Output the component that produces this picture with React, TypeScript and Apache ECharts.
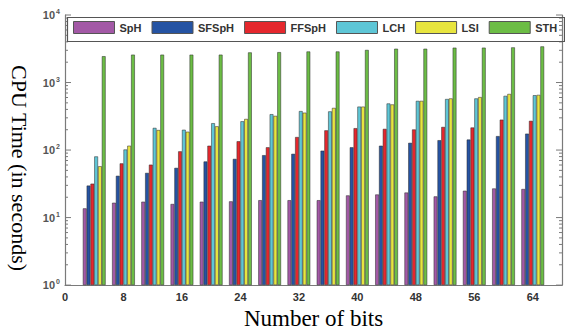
import React, { useEffect, useRef } from 'react';
import * as echarts from 'echarts';

const bits = [4, 8, 12, 16, 20, 24, 28, 32, 36, 40, 44, 48, 52, 56, 60, 64];
const sph = [13.7, 16.6, 17.2, 15.9, 17.2, 17.4, 18.1, 18.1, 18.1, 21.3, 22, 23.5, 20.6, 25, 27, 26.5];
const sfsph = [29.8, 41.6, 45.9, 54.5, 67.8, 74, 84, 88, 98, 110, 116, 128, 140, 143, 161, 175];
const ffsph = [31.8, 63.5, 60.8, 95.8, 116, 135, 110, 156, 196, 211, 206, 202, 220, 216, 282, 271];
const lch = [80.5, 102, 213, 200, 250, 267, 340, 378, 374, 440, 490, 535, 570, 582, 635, 649];
const lsi = [57.6, 116, 198, 187, 225, 289, 321, 358, 421, 440, 474, 535, 582, 609, 678, 657];
const sth = [2455, 2588, 2588, 2588, 2588, 2795, 2820, 2885, 2885, 3040, 3170, 3170, 3285, 3285, 3320, 3430];

const seriesNames = ['SpH', 'SFSpH', 'FFSpH', 'LCH', 'LSI', 'STH'];
const seriesValues = [sph, sfsph, ffsph, lch, lsi, sth];
const seriesColors = ['#a359a6', '#2553a3', '#e5272d', '#5ec6d6', '#e8e53f', '#6cbd45'];

const xMin = 0;
const xMax = 68;
const xInterval = 8;
const yMin = 1;
const yMax = 10000;
const decades = [1, 10, 100, 1000];
const minorMultipliers = [2, 3, 4, 5, 6, 7, 8, 9];

export default function App() {
  const ref = useRef<HTMLDivElement>(null);

  useEffect(() => {
    if (!ref.current) return;
    const chart = echarts.init(ref.current, undefined, { renderer: 'svg' });

    const tickData: number[][] = [];
    decades.forEach((d) => {
      tickData.push([xMin, d, 6]);
      minorMultipliers.forEach((m) => tickData.push([xMin, d * m, 3]));
    });
    tickData.push([xMin, yMax, 6]);

    const barSeries = seriesNames.map((name, i) => ({
      name,
      type: 'bar',
      data: bits.map((b, j) => [b, seriesValues[i][j]]),
      barWidth: 3.8,
      barGap: '0%',
      itemStyle: {
        color: seriesColors[i],
        borderColor: 'rgba(40,40,40,0.85)',
        borderWidth: 0.6,
      },
    }));

    const axisColor = '#7a7a7a';

    chart.setOption({
      animation: false,
      backgroundColor: '#ffffff',
      grid: { left: 65, right: 3, top: 15, bottom: 34 },
      legend: {
        data: seriesNames,
        left: 73,
        top: 21,
        padding: 0,
        itemWidth: 41,
        itemHeight: 12,
        itemGap: 10,
        icon: 'rect',
        itemStyle: { borderColor: '#555', borderWidth: 1 },
        textStyle: { fontFamily: 'Liberation Sans, Arial, sans-serif', fontWeight: 'bold', fontSize: 11, color: '#333' },
      },
      graphic: [
        {
          type: 'rect',
          left: 65,
          top: 15,
          shape: { width: 497, height: 24 },
          style: { fill: 'none', stroke: '#555', lineWidth: 1.2 },
          z: 10,
        },
      ],
      xAxis: {
        type: 'value',
        min: xMin,
        max: xMax,
        interval: xInterval,
        name: 'Number of bits',
        nameLocation: 'middle',
        nameGap: 11,
        nameTextStyle: { fontFamily: 'Liberation Serif, Times New Roman, serif', fontSize: 23, color: '#000', verticalAlign: 'top' },
        axisLine: { show: true, lineStyle: { color: axisColor, width: 1.2 } },
        axisTick: { show: false },
        splitLine: { show: false },
        axisLabel: {
          showMaxLabel: false,
          margin: 6,
          fontFamily: 'Liberation Sans, Arial, sans-serif',
          fontWeight: 'bold',
          fontSize: 11,
          color: '#333',
        },
      },
      yAxis: [
        {
          type: 'log',
          logBase: 10,
          min: yMin,
          max: yMax,
          name: 'CPU Time (in seconds)',
          nameLocation: 'middle',
          nameRotate: -90,
          nameGap: 35,
          nameTextStyle: {
            fontFamily: 'Liberation Serif, Times New Roman, serif',
            fontSize: 22,
            color: '#000',
            padding: [0, 0, 0, 36],
          },
          axisLine: { show: true, lineStyle: { color: axisColor, width: 1.2 } },
          axisTick: { show: false },
          splitLine: { show: false },
          axisLabel: {
            margin: 5,
            formatter: (v: number) => `{b|10}{s|${Math.round(Math.log10(v))}}`,
            rich: {
              b: { fontFamily: 'Liberation Sans, Arial, sans-serif', fontWeight: 'bold', fontSize: 11, color: '#555' },
              s: { fontFamily: 'Liberation Sans, Arial, sans-serif', fontWeight: 'bold', fontSize: 7, color: '#555', padding: [0, 0, 7, 1] },
            },
          },
        },
        {
          type: 'log',
          logBase: 10,
          min: yMin,
          max: yMax,
          position: 'right',
          axisLine: { show: true, lineStyle: { color: axisColor, width: 1.2 } },
          axisTick: { show: false },
          axisLabel: { show: false },
          splitLine: { show: false },
        },
      ],
      series: [
        ...barSeries,
        {
          type: 'custom',
          name: 'ticks',
          silent: true,
          clip: false,
          encode: { x: 0, y: 1 },
          data: tickData,
          renderItem: (params: any, api: any) => {
            const v = api.value(1);
            const len = api.value(2);
            const pl = api.coord([xMin, v]);
            const pr = api.coord([xMax, v]);
            const st = { stroke: axisColor, lineWidth: 1 };
            return {
              type: 'group',
              children: [
                { type: 'line', shape: { x1: pl[0], y1: pl[1], x2: pl[0] + len, y2: pl[1] }, style: st },
                { type: 'line', shape: { x1: pr[0], y1: pr[1], x2: pr[0] - len, y2: pr[1] }, style: st },
              ],
            };
          },
        },
      ],
    });

    return () => chart.dispose();
  }, []);

  return (
    <div
      ref={ref}
      style={{ position: 'fixed', left: 0, top: 0, width: 565, height: 335, background: '#fff' }}
    />
  );
}
